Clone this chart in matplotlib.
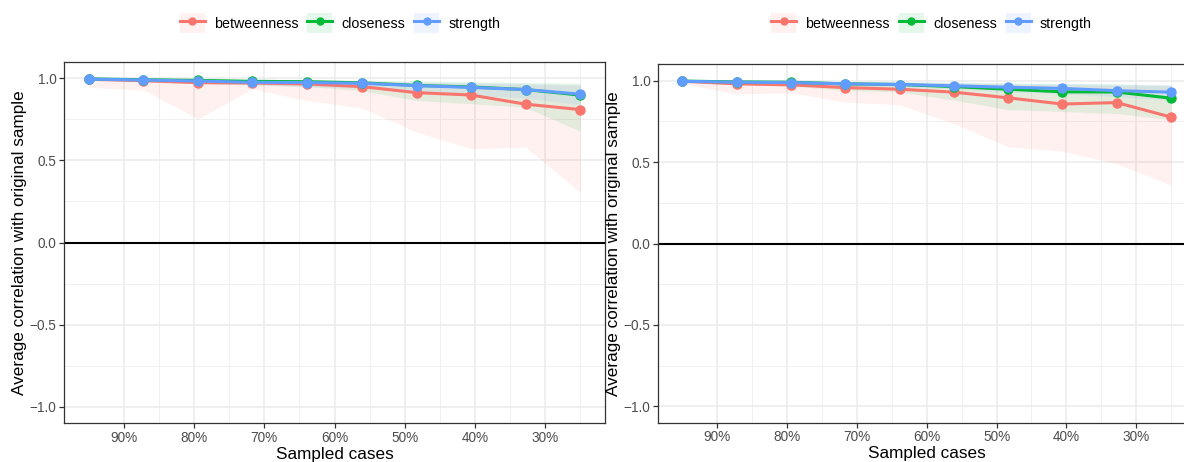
import matplotlib
matplotlib.use("Agg")
import matplotlib.pyplot as plt
from matplotlib.patches import Patch
from matplotlib.lines import Line2D
from matplotlib.ticker import FixedLocator

plt.rcParams['font.family'] = ['Liberation Sans', 'DejaVu Sans']

# Sampled cases (% of original sample)
sampled = [95.0, 87.2, 79.4, 71.7, 63.9, 56.1, 48.3, 40.6, 32.8, 25.0]
measures = ["betweenness", "closeness", "strength"]
colors = {"betweenness": "#F8766D", "closeness": "#00BA38", "strength": "#619CFF"}

# ---- Left panel ----
left_mean = {
    "betweenness": [0.995, 0.986, 0.974, 0.972, 0.966, 0.950, 0.913, 0.899, 0.843, 0.810],
    "closeness":   [0.997, 0.992, 0.988, 0.982, 0.980, 0.973, 0.957, 0.948, 0.932, 0.898],
    "strength":    [0.996, 0.990, 0.984, 0.976, 0.975, 0.970, 0.956, 0.945, 0.932, 0.904],
}
left_lower = {
    "betweenness": [0.945, 0.930, 0.754, 0.936, 0.865, 0.820, 0.673, 0.572, 0.582, 0.305],
    "closeness":   [0.990, 0.980, 0.970, 0.960, 0.950, 0.925, 0.865, 0.846, 0.824, 0.677],
    "strength":    [0.990, 0.980, 0.970, 0.960, 0.950, 0.940, 0.920, 0.900, 0.880, 0.840],
}
left_upper = {
    "betweenness": [1.000, 0.998, 0.995, 0.993, 0.990, 0.985, 0.975, 0.970, 0.965, 0.960],
    "closeness":   [1.000, 0.999, 0.997, 0.995, 0.993, 0.990, 0.985, 0.980, 0.975, 0.972],
    "strength":    [1.000, 0.997, 0.995, 0.990, 0.988, 0.985, 0.980, 0.975, 0.970, 0.960],
}

# ---- Right panel ----
right_mean = {
    "betweenness": [0.996, 0.980, 0.974, 0.957, 0.947, 0.929, 0.894, 0.856, 0.865, 0.776],
    "closeness":   [0.997, 0.992, 0.990, 0.980, 0.976, 0.963, 0.947, 0.931, 0.930, 0.892],
    "strength":    [0.996, 0.990, 0.988, 0.980, 0.976, 0.968, 0.959, 0.952, 0.938, 0.929],
}
right_lower = {
    "betweenness": [0.980, 0.919, 0.925, 0.868, 0.852, 0.736, 0.593, 0.567, 0.490, 0.359],
    "closeness":   [0.990, 0.975, 0.965, 0.940, 0.930, 0.880, 0.821, 0.811, 0.797, 0.760],
    "strength":    [0.990, 0.980, 0.975, 0.965, 0.960, 0.950, 0.930, 0.920, 0.900, 0.880],
}
right_upper = {
    "betweenness": [1.000, 0.998, 0.995, 0.993, 0.990, 0.985, 0.978, 0.975, 0.972, 0.968],
    "closeness":   [1.000, 0.999, 0.997, 0.995, 0.993, 0.990, 0.985, 0.982, 0.980, 0.972],
    "strength":    [1.000, 0.998, 0.996, 0.993, 0.990, 0.988, 0.985, 0.982, 0.978, 0.975],
}

x_major = [90, 80, 70, 60, 50, 40, 30]
x_minor = [85, 75, 65, 55, 45, 35, 25]
x_labels = ["90%", "80%", "70%", "60%", "50%", "40%", "30%"]
y_major = [-1.0, -0.5, 0.0, 0.5, 1.0]
y_minor = [-0.75, -0.25, 0.25, 0.75]

W, H = 1184, 462
fig = plt.figure(figsize=(W / 100, H / 100), dpi=100)


def px_axes(x0, x1, y0, y1):
    return fig.add_axes([x0 / W, 1 - y1 / H, (x1 - x0) / W, (y1 - y0) / H])


def draw_panel(ax, mean, lower, upper):
    ax.set_xlim(98.5, 21.5)
    ax.set_ylim(-1.1, 1.1)
    ax.xaxis.set_major_locator(FixedLocator(x_major))
    ax.xaxis.set_minor_locator(FixedLocator(x_minor))
    ax.set_xticklabels(x_labels)
    ax.yaxis.set_major_locator(FixedLocator(y_major))
    ax.yaxis.set_minor_locator(FixedLocator(y_minor))
    ax.set_yticklabels(["\u22121.0", "\u22120.5", "0.0", "0.5", "1.0"])
    ax.grid(which='major', color='#EBEBEB', lw=1.1, zorder=0)
    ax.grid(which='minor', color='#F0F0F0', lw=0.7, zorder=0)
    ax.set_axisbelow(True)
    ax.tick_params(which='minor', length=0)
    ax.tick_params(which='major', length=3.5, width=0.9, color='#333333',
                   labelcolor='#4D4D4D', labelsize=9.8, pad=2)
    for s in ax.spines.values():
        s.set_color('#333333')
        s.set_linewidth(0.9)
    for m in measures:
        ax.fill_between(sampled, lower[m], upper[m], color=colors[m], alpha=0.1,
                        lw=0, zorder=1)
    ax.axhline(0, color='black', lw=1.5, zorder=2)
    for m in measures:
        ax.plot(sampled, mean[m], color=colors[m], lw=2.2, marker='o', ms=6.5,
                zorder=3)
    ax.set_xlabel("Sampled cases", fontsize=12.3, labelpad=1.5)
    ax.set_ylabel("Average correlation with original sample", fontsize=12.3,
                  labelpad=1.5)


ax1 = px_axes(64, 605, 62, 423)
draw_panel(ax1, left_mean, left_lower, left_upper)
ax2 = px_axes(658, 1195.5, 64.3, 422.7)
draw_panel(ax2, right_mean, right_lower, right_upper)


def legend_handles():
    hs = []
    for m in measures:
        hs.append((Patch(facecolor=colors[m], alpha=0.1, lw=0),
                   Line2D([], [], color=colors[m], lw=2.2, marker='o', ms=5)))
    return hs


for cx in (340, 931.5):
    fig.legend(legend_handles(), measures, loc='center',
               bbox_to_anchor=(cx / W, 1 - 23 / H), ncol=3, frameon=False,
               fontsize=10.3, handlelength=1.75, handleheight=1.68,
               handletextpad=0.63, columnspacing=0.63, borderpad=0,
               borderaxespad=0)

fig.savefig("out.png", dpi=100)
